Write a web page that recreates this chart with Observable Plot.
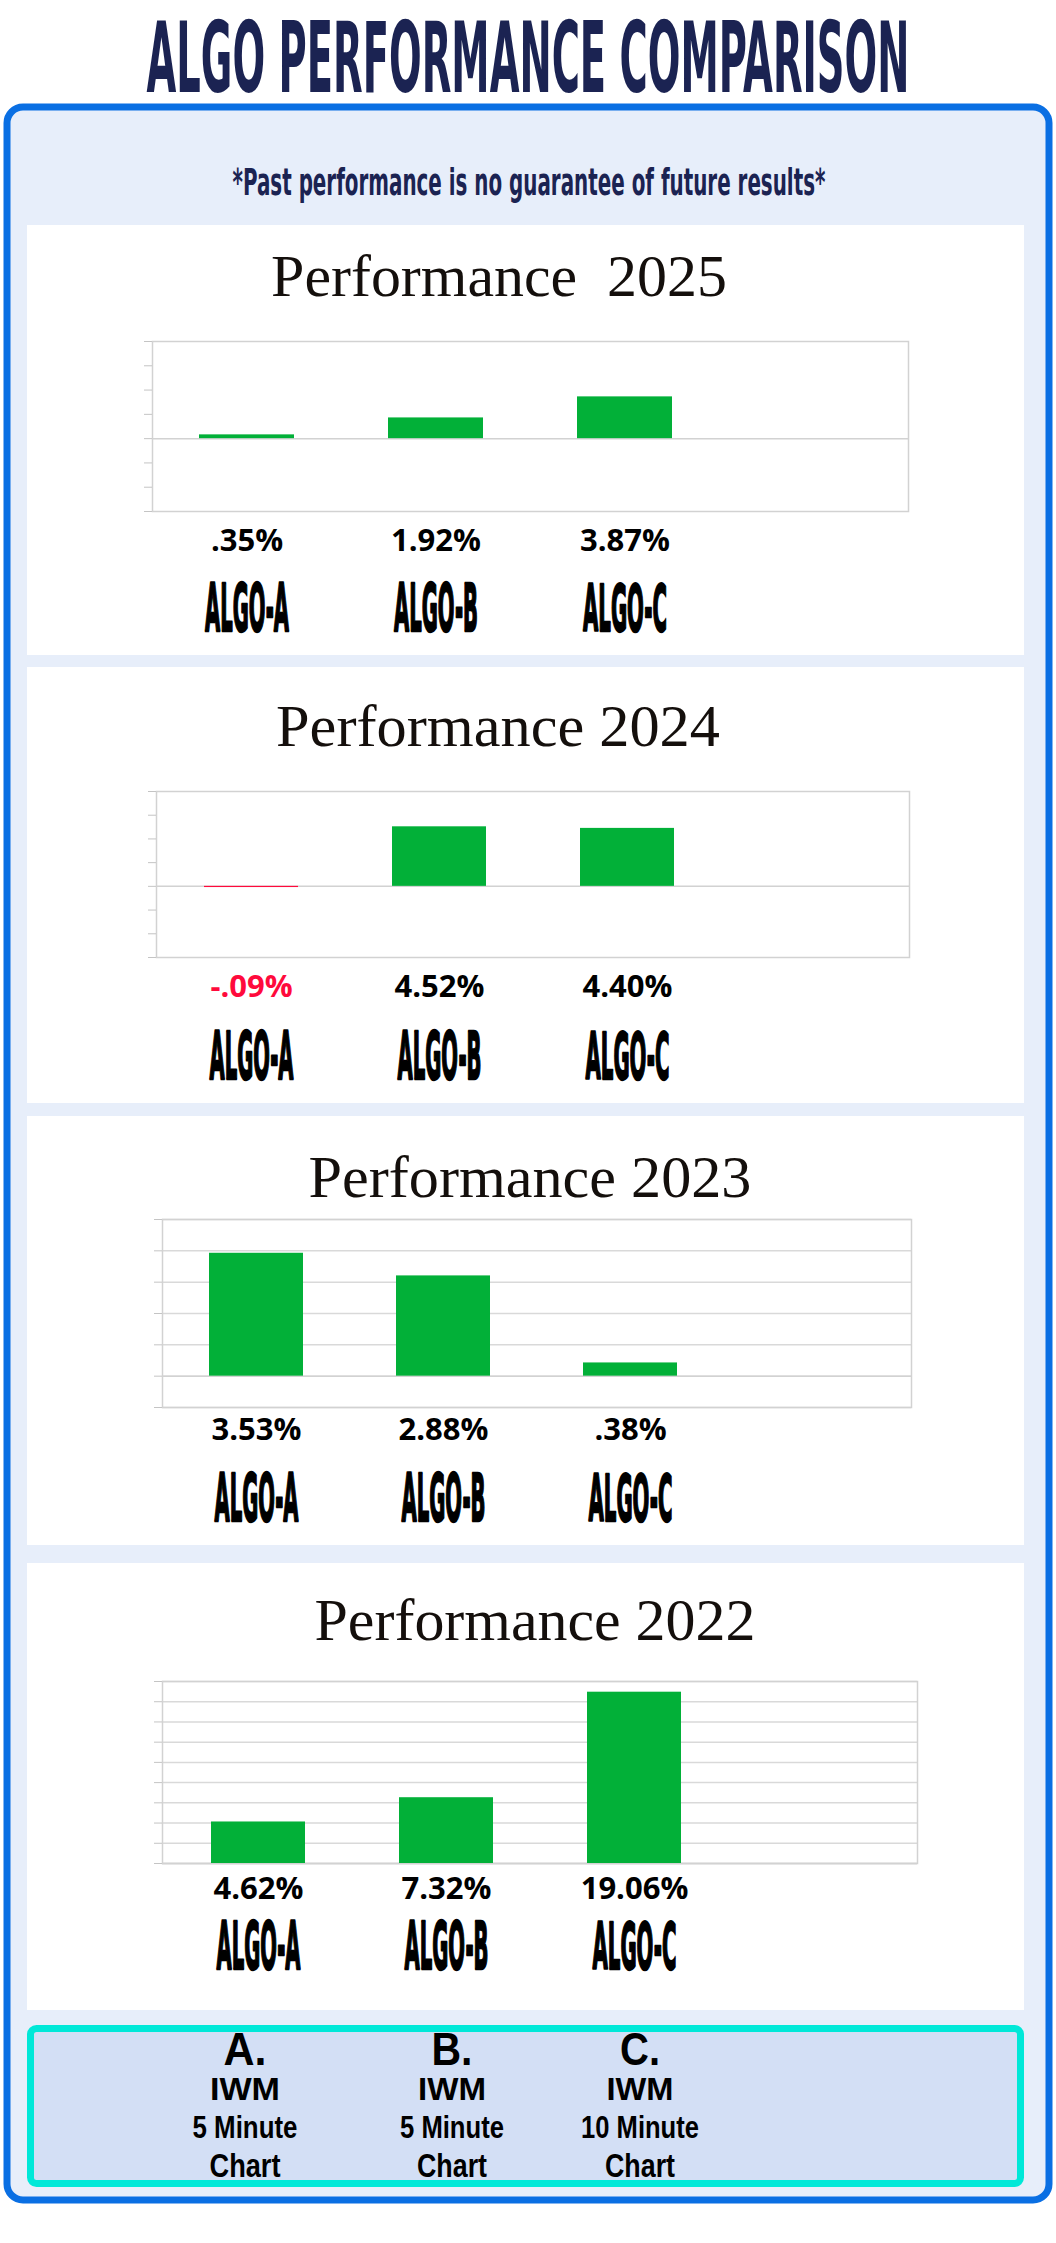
<!DOCTYPE html>
<html><head><meta charset="utf-8">
<script src="https://cdn.jsdelivr.net/npm/d3@7"></script>
<script src="https://cdn.jsdelivr.net/npm/@observablehq/plot@0.6"></script>
<style>
body{margin:0;background:#fff;}
#page{position:relative;width:1056px;height:2243px;overflow:hidden;}
#page svg{position:absolute;left:0;}
</style></head><body><div id="page"></div>
<script>
// ---------- data ----------
const categories = ["ALGO-A", "ALGO-B", "ALGO-C"];
const years = [2025, 2024, 2023, 2022];
const perf2025 = [0.35, 1.92, 3.87];
const perf2024 = [-0.09, 4.52, 4.40];
const perf2023 = [3.53, 2.88, 0.38];
const perf2022 = [4.62, 7.32, 19.06];
const footerLetters = ["A.", "B.", "C."];
const footerSymbols = ["IWM", "IWM", "IWM"];
const footerTimeframes = ["5 Minute", "5 Minute", "10 Minute"];
const footerKinds = ["Chart", "Chart", "Chart"];
const mainTitle = "ALGO PERFORMANCE COMPARISON";
const disclaimer = "*Past performance is no guarantee of future results*";
const panelTitles = ["Performance  2025", "Performance 2024", "Performance 2023", "Performance 2022"];

// ---------- styling / layout ----------
const GREEN = "#02b038", RED = "#ff0a3c", NAVY = "#1b2352";
const layout = [
  {values: perf2025, panel: [225, 655], titleX: 499, titleBase: 296, titleW: 456, frame: {l: 152, r: 908, t: 341, b: 511}, step: 2.25, below: 3, above: 4, grid: false, valueDy: 39, algoDy: 119},
  {values: perf2024, panel: [667, 1103], titleX: 498, titleBase: 746, titleW: 444, frame: {l: 156, r: 909, t: 791, b: 957}, step: 1.8, below: 3, above: 4, grid: false, valueDy: 39, algoDy: 121},
  {values: perf2023, panel: [1116, 1545], titleX: 530, titleBase: 1197, titleW: 443, frame: {l: 162, r: 911, t: 1219, b: 1407}, step: 0.9, below: 1, above: 5, grid: true, valueDy: 32, algoDy: 113},
  {values: perf2022, panel: [1563, 2010], titleX: 535, titleBase: 1640, titleW: 441, frame: {l: 162, r: 917, t: 1681, b: 1863}, step: 2.25, below: 0, above: 9, grid: true, valueDy: 35, algoDy: 105}
];
const fmtPct = v => {
  const a = Math.abs(v);
  let s = d3.format(".2f")(a);
  if (a < 1) s = s.slice(1);
  return (v < 0 ? "-" : "") + s + "%";
};

const page = d3.select("#page");
const bg = page.append("svg").attr("width", 1056).attr("height", 2243).style("top", "0px");

function fitText(sel, cx, y, w) {
  const len = sel.node().getComputedTextLength();
  const sx = len > 0 ? w / len : 1;
  sel.attr("x", 0).attr("y", 0).attr("text-anchor", "middle")
     .attr("transform", `translate(${cx},${y}) scale(${sx},1)`);
  return sel;
}
function addText(txt, cx, y, w, opts) {
  const t = bg.append("text").text(txt)
    .style("white-space", "pre")
    .attr("font-family", opts.family).attr("font-size", opts.size)
    .attr("font-weight", opts.weight || "normal").attr("fill", opts.fill || "#000");
  if (opts.stretch) t.style("font-stretch", opts.stretch);
  return fitText(t, cx, y, w);
}

// title
addText(mainTitle, 528, 92, 763, {family: "'DejaVu Sans Condensed','DejaVu Sans'", size: 98, weight: "bold", fill: NAVY, stretch: "condensed"});
// outer box
bg.append("rect").attr("x", 7).attr("y", 107).attr("width", 1042).attr("height", 2093).attr("rx", 16)
  .attr("fill", "#e7eefa").attr("stroke", "#0a6fe3").attr("stroke-width", 7);
// disclaimer
addText(disclaimer, 529, 195, 593, {family: "'DejaVu Sans Condensed','DejaVu Sans'", size: 38, weight: "bold", fill: NAVY, stretch: "condensed"});

// panels + titles
layout.forEach((p, i) => {
  bg.append("rect").attr("x", 27).attr("y", p.panel[0]).attr("width", 997).attr("height", p.panel[1] - p.panel[0]).attr("fill", "#fff");
  addText(panelTitles[i], p.titleX, p.titleBase, p.titleW, {family: "'Liberation Serif','DejaVu Serif',serif", size: 60, fill: "#140f0c"});
});

// footer box
bg.append("rect").attr("x", 30.5).attr("y", 2028.5).attr("width", 990).attr("height", 155).attr("rx", 6)
  .attr("fill", "#d3dff5").attr("stroke", "#00e8d8").attr("stroke-width", 7);
const colX = [245, 452, 640];
const fFam = "'Liberation Sans Narrow','Liberation Sans',Arial,sans-serif";
footerLetters.forEach((s, i) => addText(s, colX[i], 2065, [43, 41, 40][i], {family: fFam, size: 46, weight: "bold"}));
footerSymbols.forEach((s, i) => addText(s, colX[i], 2100, [70, 68, 67][i], {family: fFam, size: 32, weight: "bold"}));
footerTimeframes.forEach((s, i) => addText(s, colX[i], 2138, [105, 104, 118][i], {family: fFam, size: 32, weight: "bold"}));
footerKinds.forEach((s, i) => addText(s, colX[i], 2177, [71, 70, 70][i], {family: fFam, size: 33, weight: "bold"}));

// ---------- charts ----------
function squeeze(t, w, sy) {
  const len = t.getComputedTextLength();
  if (!len) return;
  const x = +t.getAttribute("x") || 0, y = +t.getAttribute("y") || 0;
  t.removeAttribute("x"); t.removeAttribute("y");
  const tr = t.getAttribute("transform") || "";
  t.setAttribute("transform", `${tr} translate(${x},${y}) scale(${(w / len).toFixed(4)},${sy})`);
}

layout.forEach((p, i) => {
  const f = p.frame;
  const rows = categories.map((c, k) => ({algo: c, value: p.values[k]}));
  const ticks = d3.range(-p.below, p.above + 1).map(k => k * p.step);
  const mt = 10, mb = 150;
  const H = (f.b - f.t) + mt + mb;
  const chart = Plot.plot({
    width: 1056, height: H,
    marginLeft: f.l, marginRight: 1056 - f.r, marginTop: mt, marginBottom: mb,
    style: {background: "transparent", overflow: "visible"},
    x: {domain: [...categories, ""], paddingInner: 0.5, paddingOuter: 0.25, axis: null},
    y: {domain: [ticks[0], ticks[ticks.length - 1]], label: null},
    color: {type: "identity"},
    marks: [
      p.grid ? Plot.gridY(ticks, {stroke: "#d9d9d9", strokeOpacity: 1, strokeWidth: 1.5}) : null,
      Plot.ruleY([0], {stroke: "#d2d2d2", strokeWidth: 1.5}),
      Plot.frame({stroke: "#d2d2d2", strokeWidth: 1.5}),
      Plot.axisY(ticks, {tickSize: 8, tickFormat: () => "", stroke: "#c4c4c4", label: null}),
      Plot.barY(rows, {x: "algo", y: "value", fill: d => d.value < 0 ? RED : GREEN}),
      Plot.text(rows, {x: "algo", text: d => fmtPct(d.value), frameAnchor: "bottom", dy: p.valueDy, lineAnchor: "bottom",
        fill: d => d.value < 0 ? RED : "#000", fontSize: 31, fontWeight: "bold", fontFamily: "'Open Sans', Lato, sans-serif"}),
      Plot.text(rows, {x: "algo", text: "algo", frameAnchor: "bottom", dy: p.algoDy, lineAnchor: "bottom",
        fill: "#000", stroke: "#000", strokeWidth: 2.2, fontSize: 58, fontWeight: "bold", fontFamily: "'DejaVu Sans', sans-serif"})
    ]
  });
  chart.style.top = (f.t - mt) + "px";
  page.node().appendChild(chart);
  // squeeze the category labels into the narrow, tall look of the original
  chart.querySelectorAll("text").forEach(t => {
    if (categories.includes(t.textContent)) squeeze(t, 84, 1.12);
  });
});
</script></body></html>
